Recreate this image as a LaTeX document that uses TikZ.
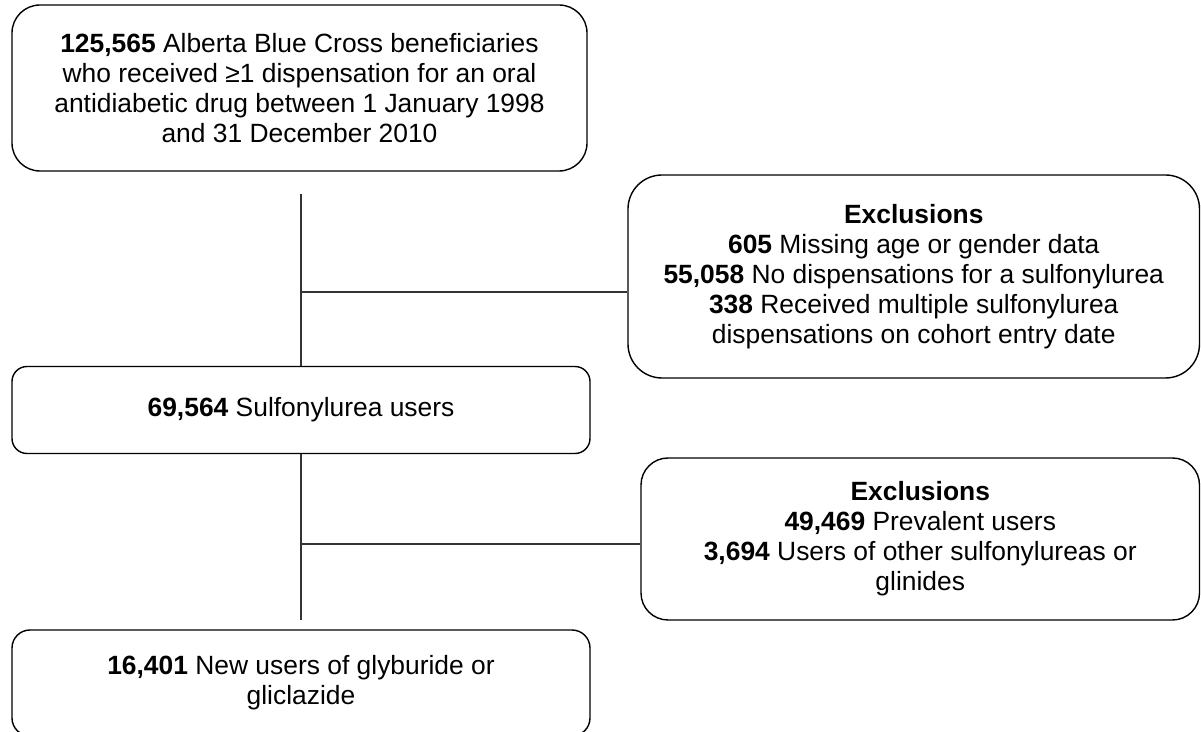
\documentclass[tikz,border=0pt]{standalone}
\usepackage{fontspec}
\setmainfont{Liberation Sans}
\usepackage{tikz}
\usetikzlibrary{positioning}

\begin{document}
\begin{tikzpicture}[
  x=0.5pt, y=-0.5pt,
  box/.style={rectangle, draw=black, line width=0.7pt, align=center, inner sep=0pt,
    font=\fontsize{13.2}{15}\selectfont},
  link/.style={draw=black!80, line width=0.7pt}
]
\useasboundingbox (0,0) rectangle (1201,732);

\node[box, rounded corners=14pt, minimum width=287.5pt, minimum height=83pt] (cohort) at (299.5,88)
  {\textbf{125,565} Alberta Blue Cross beneficiaries\\who received ≥1 dispensation for an oral\\antidiabetic drug between 1 January 1998\\and 31 December 2010};
\node[box, rounded corners=17pt, minimum width=285.75pt, minimum height=101.5pt] (excl1) at (913.75,276.5)
  {\textbf{Exclusions}\\\textbf{605} Missing age or gender data\\\textbf{55,058} No dispensations for a sulfonylurea\\\textbf{338} Received multiple sulfonylurea\\dispensations on cohort entry date};
\node[box, rounded corners=7.5pt, minimum width=289pt, minimum height=43.5pt] (sulf) at (301,410)
  {\textbf{69,564} Sulfonylurea users};
\node[box, rounded corners=13.5pt, minimum width=279.25pt, minimum height=81pt] (excl2) at (920.25,539)
  {\textbf{Exclusions}\\\textbf{49,469} Prevalent users\\\textbf{3,694} Users of other sulfonylureas or\\glinides};
\node[box, rounded corners=9pt, minimum width=289pt, minimum height=53pt] (newusers) at (301,683)
  {\textbf{16,401} New users of glyburide or\\gliclazide};

\coordinate (top1) at (301,194);
\coordinate (join1) at (301,292);
\coordinate (join2) at (301,544);
\coordinate (end2) at (301,620);

\draw[link] (top1) -- (sulf.north);
\draw[link] (join1) -- (join1 -| excl1.west);
\draw[link] (sulf.south) -- (end2);
\draw[link] (join2) -- (join2 -| excl2.west);

\end{tikzpicture}
\end{document}
